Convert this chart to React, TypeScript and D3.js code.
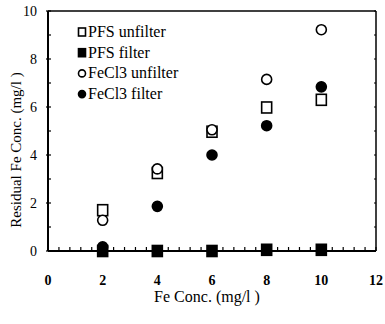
import React from "react";
import * as d3 from "d3";

const xValues = [2, 4, 6, 8, 10];
const pfsUnfilter = [1.7, 3.25, 4.97, 5.98, 6.3];
const pfsFilter = [0.0, 0.0, 0.0, 0.05, 0.05];
const fecl3Unfilter = [1.28, 3.42, 5.05, 7.15, 9.22];
const fecl3Filter = [0.17, 1.86, 4.0, 5.22, 6.84];
const xTicks = [0, 2, 4, 6, 8, 10, 12];
const yTicks = [0, 2, 4, 6, 8, 10];
const legendLabels = ["PFS unfilter", "PFS filter", "FeCl3 unfilter", "FeCl3 filter"];

const W = 385, H = 324;
const M = { left: 48, top: 11, right: 9, bottom: 73 };
const FONT = "'Liberation Serif', 'DejaVu Serif', serif";

export default function App() {
  const x = d3.scaleLinear().domain([0, 12]).range([M.left, W - M.right]);
  const y = d3.scaleLinear().domain([0, 10]).range([H - M.bottom, M.top]);
  const x0 = x(0), x1 = x(12), y0 = y(0), y1 = y(10);
  const xMinor = d3.range(0, 12.001, 0.4);
  const yMinor = d3.range(0, 10.001, 1);

  const series = [
    { data: pfsUnfilter, shape: "square", fill: false },
    { data: pfsFilter, shape: "square", fill: true },
    { data: fecl3Unfilter, shape: "circle", fill: false },
    { data: fecl3Filter, shape: "circle", fill: true },
  ];

  const marker = (shape: string, fill: boolean, cx: number, cy: number, s: number, key: string) =>
    shape === "square" ? (
      <rect key={key} x={cx - s / 2} y={cy - s / 2 - 0.5} width={s} height={s + 1}
        fill={fill ? "#000" : "#fff"} stroke="#000" strokeWidth={1.6} />
    ) : (
      <circle key={key} cx={cx} cy={cy} r={s / 2} fill={fill ? "#000" : "#fff"}
        stroke="#000" strokeWidth={1.6} />
    );

  return (
    <svg width={W} height={H} style={{ position: "absolute", left: 0, top: 0, background: "#fff" }}
      fontFamily={FONT}>
      <line x1={x0} y1={y1} x2={x1} y2={y1} stroke="#000" strokeWidth={1.5} />
      <line x1={x1} y1={y1} x2={x1} y2={y0} stroke="#000" strokeWidth={1.5} />
      {xMinor.map((v, i) => (
        <line key={"xm" + i} x1={x(v)} x2={x(v)} y1={y0} y2={y0 - 4} stroke="#000" strokeWidth={1.2} />
      ))}
      {yMinor.map((v, i) => (
        <line key={"ym" + i} x1={x0 - (v % 2 === 0 ? 2 : 0)} x2={x0 + 3} y1={y(v)} y2={y(v)}
          stroke="#000" strokeWidth={1.2} />
      ))}
      {yMinor.map((v, i) => (
        <line key={"yr" + i} x1={x1 - 2} x2={x1} y1={y(v)} y2={y(v)} stroke="#000" strokeWidth={1} />
      ))}
      <line x1={x0} y1={y1} x2={x0} y2={y0} stroke="#000" strokeWidth={2} />
      <line x1={x0} y1={y0} x2={x1} y2={y0} stroke="#000" strokeWidth={2} />
      {xTicks.map((v) => (
        <text key={"xt" + v} x={x(v)} y={285} textAnchor="middle" fontSize={14} fontWeight="bold">
          {v}
        </text>
      ))}
      {yTicks.map((v) => (
        <text key={"yt" + v} x={37} y={y(v) + 5} textAnchor="end" fontSize={14}>
          {v}
        </text>
      ))}
      <text x={207} y={302} textAnchor="middle" fontSize={16}>Fe Conc. (mg/l )</text>
      <text transform={`translate(21,${150}) rotate(-90)`} textAnchor="middle" fontSize={15}>
        Residual Fe Conc. (mg/l )
      </text>
      {series.map((s, si) =>
        s.data.map((v, i) => marker(s.shape, s.fill, x(xValues[i]), y(v), 10, `p${si}-${i}`))
      )}
      {legendLabels.map((lab, i) => {
        const ly = 32 + i * 20.7;
        const s = series[i];
        return (
          <g key={"lg" + i}>
            {marker(s.shape, s.fill, 82, ly, 7, "lm" + i)}
            <text x={88} y={ly + 5} fontSize={16}>{lab}</text>
          </g>
        );
      })}
    </svg>
  );
}
